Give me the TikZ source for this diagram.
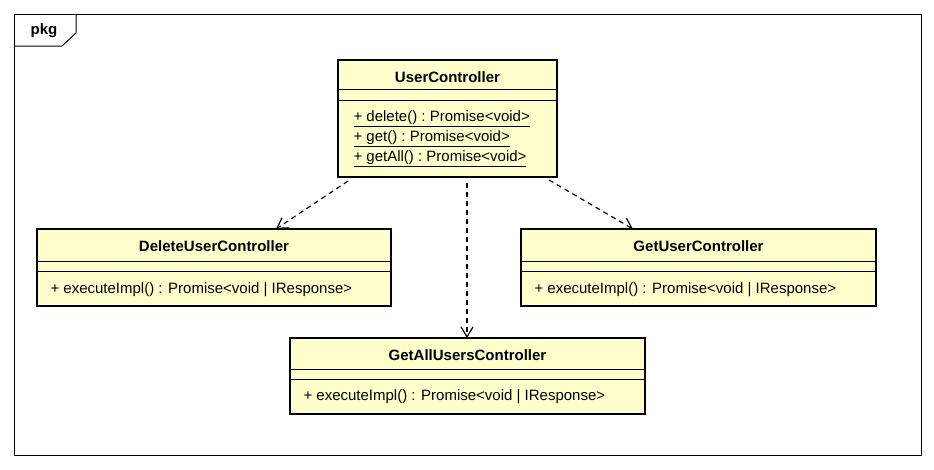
\documentclass[tikz,border=0pt]{standalone}
\usepackage{fontspec}
\setmainfont{Liberation Sans}
\usetikzlibrary{
    arrows.meta,
    positioning,
    calc,
}
\definecolor{umlfill}{RGB}{255,255,204}

\begin{document}
\begin{tikzpicture}[
        x=1pt, y=-1pt,
        line width=1pt,
        classbox/.style={draw, line width=2.6pt, fill=umlfill, anchor=north west,
            inner sep=0pt, outer sep=0pt},
        classtitle/.style={font=\fontsize{15}{18}\bfseries\selectfont},
        member/.style={font=\fontsize{15}{18}\selectfont, anchor=west, inner sep=0pt},
        dep/.style={dashed, dash pattern=on 5pt off 4pt, line width=1.2pt,
            -{Straight Barb[length=10pt, width=12pt, line width=1.2pt]}},
    ]
        \useasboundingbox (0,0) rectangle (934,469);

        % Package frame
        \draw[line width=1pt] (14,14) coordinate(F1) rectangle (921,455) coordinate(F2);
        \draw[line width=1pt] (14,46) -- (62,46) -- (76,33) -- (76,14);
        \node[font=\fontsize{15}{18}\bfseries\selectfont] (pkg) at (44,31) {pkg};

        % UserController
        \node[classbox, minimum width=219pt, minimum height=117pt] (uc) at (338,60) {};
        \node[classtitle] (ucname) at ($(uc.north)+(0,17)$) {UserController};
        \draw ($(uc.north west)+(0,29)$) -- ($(uc.north east)+(0,29)$);
        \draw ($(uc.north west)+(0,40)$) -- ($(uc.north east)+(0,40)$);
        \node[member] (ucdel) at ($(uc.north west)+(15,59)$) {\underline{+ delete() :\ Promise<void>}};
        \node[member] (ucget) at ($(uc.north west)+(15,79)$) {\underline{+ get() :\ Promise<void>}};
        \node[member] (ucall) at ($(uc.north west)+(15,99)$) {\underline{+ getAll() :\ Promise<void>}};

        % DeleteUserController
        \node[classbox, minimum width=354pt, minimum height=77pt] (del) at (37,229) {};
        \node[classtitle] (delname) at ($(del.north)+(0,17)$) {DeleteUserController};
        \draw ($(del.north west)+(0,32)$) -- ($(del.north east)+(0,32)$);
        \draw ($(del.north west)+(0,42)$) -- ($(del.north east)+(0,42)$);
        \node[member] (delexec) at ($(del.north west)+(13,61)$) {+ executeImpl() : Promise<void | IResponse>};

        % GetUserController
        \node[classbox, minimum width=355pt, minimum height=77pt] (get) at (521,229) {};
        \node[classtitle] (getname) at ($(get.north)+(0,17)$) {GetUserController};
        \draw ($(get.north west)+(0,32)$) -- ($(get.north east)+(0,32)$);
        \draw ($(get.north west)+(0,42)$) -- ($(get.north east)+(0,42)$);
        \node[member] (getexec) at ($(get.north west)+(13,61)$) {+ executeImpl() : Promise<void | IResponse>};

        % GetAllUsersController
        \node[classbox, minimum width=355pt, minimum height=76pt] (all) at (290,338) {};
        \node[classtitle] (allname) at ($(all.north)+(0,17)$) {GetAllUsersController};
        \draw ($(all.north west)+(0,31)$) -- ($(all.north east)+(0,31)$);
        \draw ($(all.north west)+(0,41)$) -- ($(all.north east)+(0,41)$);
        \node[member] (allexec) at ($(all.north west)+(13,59)$) {+ executeImpl() : Promise<void | IResponse>};

        % Dependencies
        \draw[dep] ($(uc.south west)+(10,4)$) -- ($(del.north west)+(239,0)$);
        \draw[dep] ($(uc.south west)+(129,6)$) -- ($(all.north west)+(177,0)$);
        \draw[dep] ($(uc.south east)+(-8,3)$) -- ($(get.north west)+(112,0)$);
    \end{tikzpicture}
\end{document}
